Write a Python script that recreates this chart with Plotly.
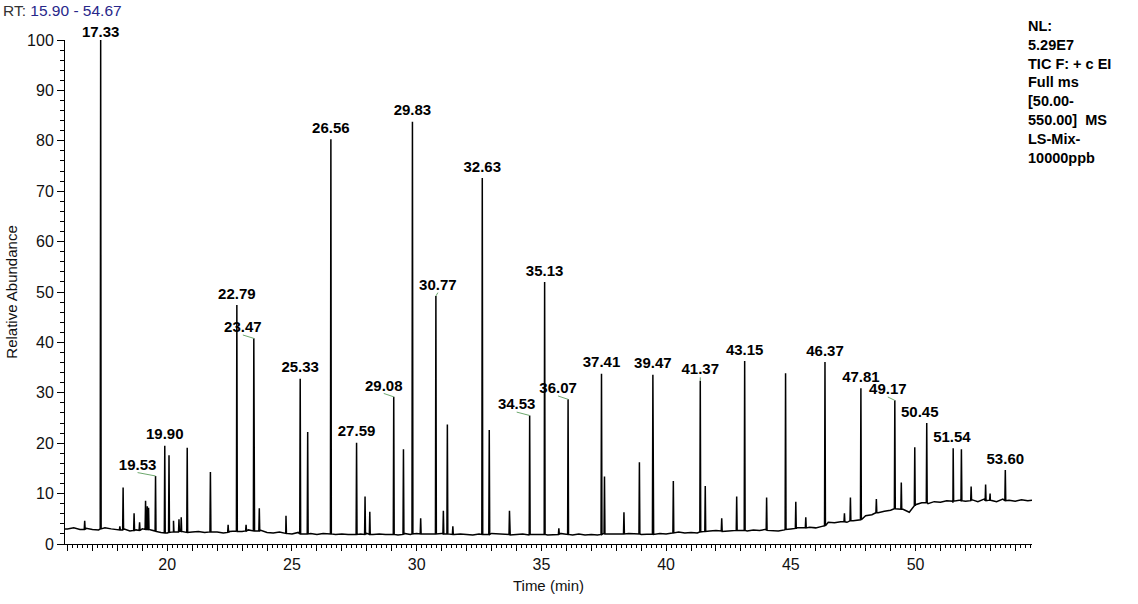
import plotly.graph_objects as go

# ---------------- data ----------------
RT_START, RT_END = 15.90, 54.67
BASE_START_VALUE = 3.0
BASE_END_VALUE = 8.7
BASE_T0 = 16.0
BASE_STEP = 0.25
# baseline samples (relative abundance), every 0.25 min from 16.00 to 54.50
BASE_VALUES = [
    3.0, 3.2, 2.9, 3.1,   # 16
    2.9, 2.8, 3.2, 3.0,   # 17
    2.8, 3.0, 2.6, 2.8,   # 18
    3.0, 2.8, 2.6, 2.3,   # 19
    2.2, 2.5, 2.6, 2.3,   # 20
    2.4, 2.5, 2.3, 2.4,   # 21
    2.4, 2.2, 2.5, 2.6,   # 22
    2.5, 2.8, 2.6, 2.7,   # 23
    2.3, 2.2, 2.4, 2.1,   # 24
    2.0, 2.3, 2.0, 2.1,   # 25
    1.9, 2.1, 2.0, 1.9,   # 26
    2.0, 1.9, 1.9, 2.0,   # 27
    2.1, 1.9, 2.0, 1.9,   # 28
    2.0, 1.8, 2.1, 1.9,   # 29
    2.1, 2.0, 2.0, 1.9,   # 30
    2.1, 2.0, 1.9, 2.0,   # 31
    1.9, 1.8, 2.0, 1.9,   # 32
    2.1, 2.0, 1.9, 1.8,   # 33
    1.9, 2.0, 1.8, 1.9,   # 34
    2.0, 1.8, 1.9, 2.1,   # 35
    1.9, 1.8, 2.0, 1.8,   # 36
    1.9, 1.8, 2.1, 2.0,   # 37
    2.0, 1.9, 2.1, 2.0,   # 38
    1.9, 2.0, 1.9, 2.1,   # 39
    2.0, 2.2, 2.4, 2.2,   # 40
    2.3, 2.2, 2.4, 2.6,   # 41
    2.7, 2.5, 2.6, 2.8,   # 42
    2.7, 2.6, 2.8, 2.7,   # 43
    2.9, 2.7, 2.6, 2.8,   # 44
    3.0, 3.2, 3.1, 3.3,   # 45
    3.2, 3.5, 4.3, 4.2,   # 46
    4.4, 4.3, 4.6, 4.7,   # 47
    5.6, 5.8, 6.2, 6.5,   # 48
    6.7, 7.0, 6.9, 6.3,   # 49
    7.8, 8.2, 8.0, 8.4,   # 50
    8.3, 8.6, 8.2, 8.7,   # 51
    8.5, 8.8, 8.4, 8.9,   # 52
    8.6, 8.4, 8.9, 8.7,   # 53
    8.5, 8.8, 8.6,        # 54
]

# peaks: retention time (min), apex height, local baseline
PEAK_RT = [16.69, 17.33, 18.10, 18.23, 18.67, 18.89, 19.13, 19.20, 19.25, 19.53,
           19.90, 20.07, 20.25, 20.47, 20.56, 20.80, 21.73, 22.44, 22.79, 23.16,
           23.47, 23.69, 24.76, 25.33, 25.63, 26.56, 27.59, 27.93, 28.12, 29.08,
           29.47, 29.83, 30.16, 30.77, 31.07, 31.23, 31.45, 32.63, 32.91, 33.72,
           34.53, 35.13, 35.70, 36.07, 37.41, 37.53, 38.31, 38.93, 39.47, 40.29,
           41.37, 41.57, 42.23, 42.83, 43.15, 44.03, 44.79, 45.20, 45.60, 46.37,
           47.15, 47.39, 47.81, 48.43, 49.17, 49.43, 49.97, 50.45, 51.51, 51.84,
           52.23, 52.81, 52.99, 53.60]
PEAK_HEIGHT = [4.6, 100.0, 3.5, 11.2, 6.1, 4.3, 8.6, 7.5, 7.2, 13.5,
               19.5, 17.6, 4.6, 4.9, 5.3, 19.1, 14.3, 3.8, 47.4, 3.8,
               40.8, 7.1, 5.6, 32.8, 22.2, 80.3, 20.1, 9.4, 6.4, 29.2,
               18.8, 83.8, 5.1, 49.2, 6.6, 23.7, 3.5, 72.6, 22.6, 6.6,
               25.5, 52.0, 3.1, 28.7, 33.8, 13.4, 6.3, 16.2, 33.6, 12.5,
               32.4, 11.5, 5.1, 9.4, 36.3, 9.2, 33.9, 8.4, 5.3, 36.1,
               6.1, 9.2, 30.9, 8.9, 28.5, 12.2, 19.2, 24.0, 19.0, 18.8,
               11.4, 11.8, 10.0, 14.7]
PEAK_BASE = [2.9, 3.0, 2.8, 2.8, 2.7, 2.7, 2.9, 2.9, 2.9, 2.5,
             2.2, 2.3, 2.4, 2.4, 2.5, 2.3, 2.4, 2.3, 2.5, 2.6,
             2.6, 2.6, 2.1, 2.0, 2.0, 2.0, 1.9, 1.9, 1.9, 1.9,
             1.9, 2.0, 2.0, 2.0, 2.0, 2.0, 1.9, 1.9, 1.9, 1.9,
             1.9, 1.9, 1.9, 1.9, 1.9, 2.0, 2.0, 2.0, 2.0, 2.2,
             2.4, 2.5, 2.6, 2.7, 2.7, 2.7, 2.9, 3.1, 3.2, 3.6,
             4.4, 4.6, 4.8, 6.2, 7.0, 6.9, 7.6, 8.2, 8.5, 8.6,
             8.6, 8.6, 8.7, 8.6]

# labelled peaks
PEAK_LABELS = ["17.33", "19.53", "19.90", "22.79", "23.47", "25.33", "26.56", "27.59",
               "29.08", "29.83", "30.77", "32.63", "34.53", "35.13", "36.07", "37.41",
               "39.47", "41.37", "43.15", "46.37", "47.81", "49.17", "50.45", "51.54",
               "53.60"]

X_LABEL_STEP = 5      # labelled ticks
X_TICK_STEP = 1       # unlabelled major ticks
X_MINOR_STEP = 0.2
Y_LABEL_STEP = 10
Y_MINOR_STEP = 2

INFO_TEXT = ["NL:", "5.29E7", "TIC F: + c EI", "Full ms", "[50.00-", "550.00]  MS",
             "LS-Mix-", "10000ppb"]
RT_LABEL = "RT:"
RT_RANGE_TEXT = "15.90 - 54.67"
X_TITLE = "Time (min)"
Y_TITLE = "Relative Abundance"

# ---------------- styles ----------------
W, H = 1138, 604
M_L, M_R, M_T, M_B = 62.5, 106.25, 39.5, 58
FONT = "Liberation Sans, Arial, sans-serif"
INK = "#111111"
LEADER = "#6da86d"
PEAK_HALF_WIDTH = 0.018
LABEL_DX = {"19.53": -18, "23.47": -11, "29.08": -10, "34.53": -13, "36.07": -10,
            "49.17": -7, "50.45": -7, "30.77": 2, "51.54": -2}   # px
LEADERS = {"19.53", "23.47", "29.08", "34.53", "36.07", "49.17", "41.37", "30.77"}
LABEL_LIFT = 0.5          # data units above the apex
LABEL_MAX_Y = 99.95       # keep the anchor inside the axis range
INFO_CENTER_PX = 93       # vertical centre of the info block (px from top)
INFO_DX_PX = -4

px_per_x = (W - M_L - M_R) / (RT_END - RT_START)
px_per_y = (H - M_T - M_B) / 100.0

# ---------------- build chromatogram trace from the data ----------------
points = [(RT_START, 0, BASE_START_VALUE)]
for i, v in enumerate(BASE_VALUES):
    points.append((BASE_T0 + i * BASE_STEP, 0, v))
points.append((RT_END, 0, BASE_END_VALUE))
for rt, h, b in zip(PEAK_RT, PEAK_HEIGHT, PEAK_BASE):
    points.append((rt - PEAK_HALF_WIDTH, 1, b))
    points.append((rt, 2, h))
    points.append((rt + PEAK_HALF_WIDTH, 3, b))
points.sort(key=lambda p: (p[0], p[1]))
xs = [p[0] for p in points]
ys = [p[2] for p in points]

fig = go.Figure()
fig.add_trace(go.Scatter(x=xs, y=ys, mode="lines",
                         line=dict(color="black", width=1.5),
                         hoverinfo="skip", showlegend=False, cliponaxis=False))
# invisible trace carrying the secondary (1-min tick) axis
fig.add_trace(go.Scatter(x=[RT_START, RT_END], y=[0, 0], xaxis="x2", mode="lines",
                         line=dict(color="rgba(0,0,0,0)"), hoverinfo="skip",
                         showlegend=False))

# peak labels and leader lines
lab_x, lab_y, lead_x, lead_y = [], [], [], []
for lab in PEAK_LABELS:
    rt = float(lab)
    idx = min(range(len(PEAK_RT)), key=lambda k: abs(PEAK_RT[k] - rt))
    h = PEAK_HEIGHT[idx]
    lx = rt + LABEL_DX.get(lab, 0) / px_per_x
    lab_x.append(lx)
    lab_y.append(min(h + LABEL_LIFT, LABEL_MAX_Y))
    if lab in LEADERS:
        lead_x += [lx, PEAK_RT[idx], None]
        lead_y += [h + 3.4 / px_per_y, h, None]

fig.add_trace(go.Scatter(x=lead_x, y=lead_y, mode="lines",
                         line=dict(color=LEADER, width=1), hoverinfo="skip",
                         showlegend=False, cliponaxis=False))
fig.add_trace(go.Scatter(x=lab_x, y=lab_y, mode="text", text=PEAK_LABELS,
                         textposition="top center",
                         textfont=dict(family=FONT, size=15, color="black", weight="bold"),
                         hoverinfo="skip", showlegend=False, cliponaxis=False))

# info block, top right (anchor kept inside the axis range, text extends outward)
fig.add_trace(go.Scatter(x=[RT_END + INFO_DX_PX / px_per_x],
                         y=[100 - (INFO_CENTER_PX - M_T) / px_per_y], mode="text",
                         text=["<br>".join(INFO_TEXT)], textposition="middle right",
                         textfont=dict(family=FONT, size=14.5, color="black", weight="bold"),
                         hoverinfo="skip", showlegend=False, cliponaxis=False))

fig.update_layout(
    width=W, height=H,
    margin=dict(l=M_L, r=M_R, t=M_T, b=M_B),
    paper_bgcolor="white", plot_bgcolor="white",
    showlegend=False,
    title=dict(
        text=f"<span style='color:#333333'>{RT_LABEL}</span> "
             f"<span style='color:#27278a'>{RT_RANGE_TEXT}</span>",
        font=dict(family=FONT, size=15.5),
        xref="container", yref="container", x=3 / W, xanchor="left",
        y=1 - 11 / H, yanchor="middle", pad=dict(l=0, r=0, t=0, b=0),
    ),
    xaxis=dict(
        range=[RT_START, RT_END], showgrid=False, zeroline=False,
        showline=True, linecolor="black",
        tickmode="linear", tick0=0, dtick=X_LABEL_STEP,
        ticks="outside", ticklen=6, tickcolor="black",
        tickfont=dict(family=FONT, size=16, color=INK),
        minor=dict(tickmode="linear", tick0=0, dtick=X_MINOR_STEP, ticks="outside",
                   ticklen=3, tickcolor="black"),
        title=dict(text=X_TITLE, font=dict(family=FONT, size=15, color=INK), standoff=8),
    ),
    xaxis2=dict(
        range=[RT_START, RT_END], overlaying="x", anchor="y", side="bottom",
        showgrid=False, zeroline=False, showline=False, showticklabels=False,
        tickmode="linear", tick0=0, dtick=X_TICK_STEP,
        ticks="outside", ticklen=6, tickcolor="black",
    ),
    yaxis=dict(
        range=[0, 100], showgrid=False, zeroline=False,
        showline=True, linecolor="black",
        tickmode="linear", tick0=0, dtick=Y_LABEL_STEP,
        ticks="outside", ticklen=7, tickcolor="black",
        tickfont=dict(family=FONT, size=16, color=INK),
        minor=dict(tickmode="linear", tick0=0, dtick=Y_MINOR_STEP, ticks="outside",
                   ticklen=4, tickcolor="black"),
        title=dict(text=Y_TITLE, font=dict(family=FONT, size=15, color=INK), standoff=5),
    ),
)

fig.write_html("out.html")
